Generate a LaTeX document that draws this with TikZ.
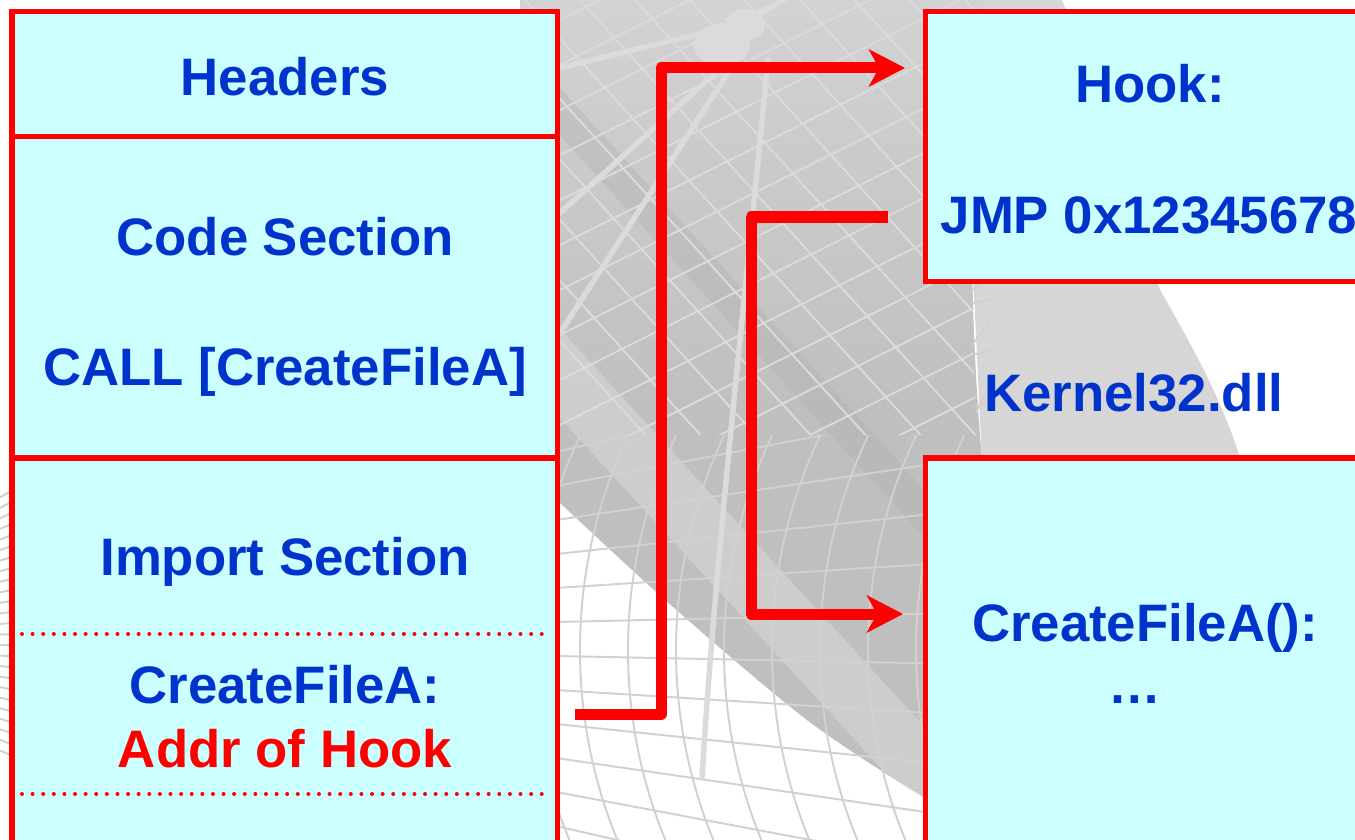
\documentclass[tikz,border=0pt]{standalone}
\usepackage{fontspec}
\setmainfont{Liberation Sans}
\usetikzlibrary{arrows.meta}
\definecolor{boxfill}{HTML}{CCFFFF}
\definecolor{txtblue}{HTML}{0033CC}
\definecolor{hookred}{HTML}{FF0000}
\definecolor{globetop}{HTML}{D2D2D2}
\definecolor{globebot}{HTML}{BFBFBF}
\definecolor{globelight}{HTML}{D6D6D6}
\definecolor{globeband}{HTML}{AFAFAF}
\definecolor{gridwhite}{HTML}{D4D0D0}
\definecolor{gridgrey}{HTML}{DCDADA}
\begin{document}
\begin{tikzpicture}[x=0.01cm,y=-0.01cm,
  membox/.style={draw=hookred, fill=boxfill, line width=0.05cm, anchor=north west,
    inner sep=0pt, outer sep=0pt},
  lbl/.style={anchor=base, inner sep=0pt, text=txtblue,
    font=\fontsize{15}{18}\selectfont\bfseries},
  conn/.style={draw=hookred, line width=0.11cm, line join=round,
    -{Stealth[length=0.36cm,width=0.37cm,inset=0.1cm]}},
  sepdots/.style={draw=hookred, line width=0.04cm, line cap=round,
    dash pattern=on 0pt off 0.106cm},
  gridw/.style={draw=gridwhite, line width=0.55pt},
  gridg/.style={draw=gridgrey, line width=0.55pt},
  rodline/.style={draw=gridgrey, line width=0.055cm, line cap=round}]

\useasboundingbox (0,0) rectangle (1355,840);
\clip (0,0) rectangle (1355,840);
\fill[white] (0,0) rectangle (1355,840);

% pale disc behind the right-hand column
\fill[globelight] (960,0) -- (1062,0) .. controls (1110,120) and (1140,230) .. (1160,290)
  .. controls (1200,360) and (1240,430) .. (1255,520) -- (1300,840) -- (1000,840) -- cycle;

% darker shaded body of the globe
\begin{scope}
  \clip (520,0) -- (985,0) .. controls (968,120) and (968,300) .. (982,460)
    -- (1010,840)
    -- plot[smooth] coordinates {(1000,840) (923,797) (807,720) (673,607) (560,503) (520,465)}
    -- cycle;
  \foreach \i in {0,...,41} {
    \pgfmathsetmacro\mixpct{100*min(1,\i/20)}
    \fill[globebot!\mixpct!globetop] (500,{20*\i}) rectangle (1020,{20*\i+21});
  }
  \draw[globeband, line width=0.32cm, opacity=0.35, line cap=round] (545,95) -- (930,520);
  \draw[white, line width=0.6cm, opacity=0.22] (520,330) -- (960,810);
\end{scope}

% curved grid over the lower part and the white margins
\begin{scope}[even odd rule]
  \clip (0,0) rectangle (990,840)
    (520,0) -- (985,0) .. controls (968,120) and (968,300) .. (978,435) -- (520,435) -- cycle;
  \foreach \yi in {180,214,...,1000}
    \draw[gridw] (0,{640+(\yi-640)*0.31}) -- (990,{640+(\yi-640)*1.538});
  \foreach \i in {-8,...,8}
    \draw[gridw] ({1080+48*\i},650) circle[radius=500];
\end{scope}

% straight grid over the upper part of the globe
\begin{scope}
  \clip (520,0) -- (985,0) .. controls (968,120) and (968,300) .. (978,435) -- (520,435) -- cycle;
  \foreach \k in {0,...,16}
    \draw[gridg] ({250+55*\k},0) -- ++(700,770);
  \foreach \k in {0,...,18}
    \draw[gridg] (480,{60+45*\k}) -- ++(600,-300);
\end{scope}

% satellite and its rods
\fill[gridgrey] (722,45) ellipse[x radius=28, y radius=22];
\fill[gridgrey] (745,25) ellipse[x radius=20, y radius=16];
\draw[rodline] (750,20) -- (800,-10);
\draw[rodline] (560,68) -- (715,30);
\draw[rodline] (560,213) -- (727,62);
\draw[rodline] (560,333) -- (735,62);
\draw[rodline] (768,60) .. controls (745,300) and (715,560) .. (702,778);

% executable image on the left
\node[membox, minimum width=5.45cm, minimum height=1.25cm] (hdr) at (12,12) {};
\node[membox, minimum width=5.45cm, minimum height=3.21cm] (code) at (12,137) {};
\node[membox, minimum width=5.45cm, minimum height=4.2cm] (imp) at (12,458) {};

% kernel32 pieces on the right
\node[membox, minimum width=4.6cm, minimum height=2.69cm] (hook) at (925,12) {};
\node[membox, minimum width=4.6cm, minimum height=4.2cm] (cfa) at (925,458) {};

% import table entry separators
\draw[sepdots] (22,634) -- (550,634);
\draw[sepdots] (22,794) -- (550,794);

% labels
\node[lbl] (thdr) at (285,96) {Headers};
\node[lbl] (tcode) at (285,256) {Code Section};
\node[lbl] (tcall) at (285,386) {CALL [CreateFileA]};
\node[lbl] (timp) at (285,575) {Import Section};
\node[lbl] (tent) at (285,703) {CreateFileA:};
\node[lbl, text=hookred] (taddr) at (285,767) {Addr of Hook};
\node[lbl] (thook) at (1150,103) {Hook:};
\node[lbl, anchor=base west] (tjmp) at (940,234) {JMP 0x12345678};
\node[lbl] (tk32) at (1134,411) {Kernel32.dll};
\node[lbl] (tcfa) at (1145,641) {CreateFileA():};
\node[lbl] (tdots) at (1135,703) {…};

% redirected call path
\coordinate (s1) at (575,714);
\coordinate (t1) at (905,68);
\coordinate (s2) at (888,217);
\coordinate (t2) at (903,614);
\draw[conn] (s1) -- ++(86,0) |- (t1);
\draw[conn] (s2) -- ++(-137,0) |- (t2);
\end{tikzpicture}
\end{document}
